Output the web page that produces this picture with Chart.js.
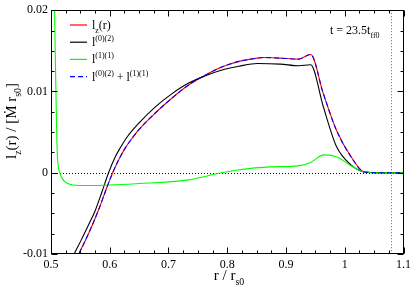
<!DOCTYPE html>
<html><head><meta charset="utf-8">
<script src="https://cdn.jsdelivr.net/npm/chart.js@4"></script>
<style>html,body{margin:0;padding:0;background:#fff}canvas{display:block}</style>
</head><body>
<canvas id="c" width="415" height="287"></canvas>
<script>
// ---- data ----
const xTotal = [0.542,0.548,0.560,0.5711,0.5824,0.5936,0.605,0.616,0.626,0.6356,0.6496,0.6776,0.7055,0.7336,0.7617,0.7896,0.82,0.8513,0.8625,0.8904,0.9213,0.942,0.9634,0.9857,1.011,1.033,1.06,1.1];
const yTotal = [-0.0108,-0.0099,-0.0081,-0.0063,-0.0043,-0.0021,0.0,0.0017,0.0030,0.0040,0.0053,0.00735,0.00916,0.01076,0.01197,0.01297,0.0137,0.0141,0.01418,0.0141,0.01398,0.01455,0.00976,0.00526,0.00193,0.0001,0,0];
const x02 = [0.534,0.540,0.552,0.564,0.575,0.5865,0.598,0.609,0.619,0.6296,0.6496,0.6776,0.7055,0.7336,0.7617,0.7896,0.82,0.8513,0.8904,0.9213,0.942,0.9634,0.9857,1.011,1.033,1.06,1.1];
const y02 = [-0.0108,-0.0099,-0.0082,-0.0064,-0.0047,-0.0024,0.0,0.0019,0.0032,0.0044,0.0061,0.0081,0.0097,0.011,0.0119,0.0126,0.0131,0.01345,0.01337,0.01317,0.01329,0.00815,0.00325,0.00093,0.0001,0,0];
const x11 = [0.5035,0.506,0.5084,0.5106,0.515,0.5235,0.537,0.5655,0.65,0.7336,0.784,0.8176,0.8737,0.9213,0.941,0.9644,0.9857,1.011,1.033,1.06,1.1];
const y11 = [0.035,0.02,0.01,0.0025,0.0,-0.0011,-0.0015,-0.00157,-0.00133,-0.00088,-0.0001,0.00034,0.00072,0.00084,0.00124,0.0022,0.00197,0.00084,0.00012,0,0];
const xSum = [0.542,0.548,0.560,0.5711,0.5824,0.5936,0.605,0.616,0.626,0.6356,0.6496,0.6776,0.7055,0.7336,0.7617,0.7896,0.82,0.8513,0.8625,0.8904,0.9213,0.942,0.9634,0.9857,1.011,1.033,1.06,1.1];
const ySum = [-0.0108,-0.0099,-0.0081,-0.0063,-0.0043,-0.0021,0.0,0.0017,0.0030,0.0040,0.0053,0.00735,0.00916,0.01076,0.01197,0.01297,0.0137,0.0141,0.01418,0.0141,0.01398,0.01455,0.00976,0.00526,0.00193,0.0001,0,0];
const xTicks = [0.5,0.6,0.7,0.8,0.9,1.0,1.1];
const yTicks = [-0.01,0,0.01,0.02];
const xDotted = 1.079;

const FONT = "'Liberation Serif', 'Times New Roman', Times, 'DejaVu Serif', serif";
const pts = (xs, ys) => xs.map((x,i)=>({x, y: ys[i]}));

function drawRich(ctx, x, y, segs, size, align){
  let w = 0;
  const parts = segs.map(s=>{
    const fs = s.k ? size*0.66 : size;
    ctx.font = fs + "px " + FONT;
    const m = ctx.measureText(s.t).width;
    w += m; return {s, fs, m};
  });
  let cx = align==='center' ? x - w/2 : (align==='right' ? x - w : x);
  ctx.textBaseline = 'alphabetic'; ctx.textAlign = 'left';
  parts.forEach(p=>{
    ctx.font = p.fs + "px " + FONT;
    let dy = 0;
    if (p.s.k==='sub') dy = size*0.32;
    if (p.s.k==='sup') dy = -size*0.42;
    ctx.fillText(p.s.t, cx, y+dy);
    cx += p.m;
  });
}

const legendItems = [
  {color:'#ff0000', dash:[], segs:[{t:'l'},{t:'z',k:'sub'},{t:'(r)'}]},
  {color:'#000000', dash:[], segs:[{t:'l'},{t:'(0)(2)',k:'sup'}]},
  {color:'#00ff00', dash:[], segs:[{t:'l'},{t:'(1)(1)',k:'sup'}]},
  {color:'#0000ff', dash:[5,3], segs:[{t:'l'},{t:'(0)(2)',k:'sup'},{t:' + l'},{t:'(1)(1)',k:'sup'}]}
];

const deco = {
  id:'deco',
  beforeDatasetsDraw(chart){
    const {ctx, chartArea:a, scales:{x,y}} = chart;
    ctx.save();
    ctx.strokeStyle = '#000'; ctx.lineWidth = 1; ctx.setLineDash([1,2]);
    const y0 = Math.round(y.getPixelForValue(0))+0.5;
    ctx.beginPath(); ctx.moveTo(a.left, y0); ctx.lineTo(a.right, y0); ctx.stroke();
    ctx.strokeStyle = '#666';
    const xv = Math.round(x.getPixelForValue(xDotted))+0.5;
    ctx.beginPath(); ctx.moveTo(xv, a.top); ctx.lineTo(xv, a.bottom); ctx.stroke();
    ctx.restore();
  },
  afterDatasetsDraw(chart){
    const {ctx, chartArea:a, scales:{x,y}} = chart;
    ctx.save();
    ctx.strokeStyle = '#000'; ctx.lineWidth = 1; ctx.setLineDash([]);
    const L = Math.round(a.left)+0.5, R = Math.round(a.right)-0.5, T = Math.round(a.top)+0.5, B = Math.round(a.bottom)-0.5;
    ctx.strokeRect(L, T, R-L, B-T);
    ctx.beginPath();
    for (let i=0;i<=24;i++){
      const v = 0.5 + i*0.025;
      const px = Math.round(x.getPixelForValue(v))+0.5;
      const len = (i%4===0) ? 6 : 3;
      ctx.moveTo(px, B); ctx.lineTo(px, B-len);
      ctx.moveTo(px, T); ctx.lineTo(px, T+len);
    }
    for (let i=0;i<=12;i++){
      const v = -0.01 + i*0.0025;
      const py = Math.round(y.getPixelForValue(v))+0.5;
      const len = (i%4===0) ? 6 : 3;
      ctx.moveTo(L, py); ctx.lineTo(L+len, py);
      ctx.moveTo(R, py); ctx.lineTo(R-len, py);
    }
    ctx.stroke();
    ctx.fillStyle = '#000';
    legendItems.forEach((it, i)=>{
      const cy = 25 + i*17.2;
      ctx.strokeStyle = it.color; ctx.lineWidth = 1.2; ctx.setLineDash(it.dash);
      ctx.beginPath(); ctx.moveTo(70, cy); ctx.lineTo(87, cy); ctx.stroke();
      ctx.setLineDash([]);
      drawRich(ctx, 92, cy+4, it.segs, 12, 'left');
    });
    drawRich(ctx, 330, 34, [{t:'t = 23.5t'},{t:'ff0',k:'sub'}], 12, 'left');
    drawRich(ctx, 229, 280, [{t:'r / r'},{t:'s0',k:'sub'}], 15, 'center');
    ctx.save();
    ctx.translate(16, 121); ctx.rotate(-Math.PI/2);
    drawRich(ctx, 0, 0, [{t:'l'},{t:'z',k:'sub'},{t:'(r) / [Ṁ r'},{t:'s0',k:'sub'},{t:']'}], 15, 'center');
    ctx.restore();
    ctx.restore();
  }
};

const common = {showLine:true, pointRadius:0, borderWidth:1.1, fill:false, cubicInterpolationMode:'monotone'};
new Chart(document.getElementById('c'), {
  type:'scatter',
  data:{datasets:[
    Object.assign({label:'lz(r)', data:pts(xTotal,yTotal), borderColor:'#ff0000', order:4}, common),
    Object.assign({label:'l(0)(2)', data:pts(x02,y02), borderColor:'#000000', order:3}, common),
    Object.assign({label:'l(1)(1)', data:pts(x11,y11), borderColor:'#00ff00', order:2}, common),
    Object.assign({label:'sum', data:pts(xSum,ySum), borderColor:'#0000ff', borderDash:[5,3], order:1}, common)
  ]},
  options:{
    responsive:false, animation:false, devicePixelRatio:1,
    layout:{padding:{top:5, right:8, left:0, bottom:0}},
    plugins:{legend:{display:false}, tooltip:{enabled:false}},
    scales:{
      x:{type:'linear', min:0.5, max:1.1,
        afterBuildTicks(s){ s.ticks = xTicks.map(v=>({value:v})); },
        afterFit(s){ s.height = 33; },
        grid:{display:false, drawTicks:false}, border:{display:false},
        ticks:{autoSkip:false, maxRotation:0, padding:4, color:'#000', font:{family:FONT, size:12},
          callback:v=>String(Math.round(v*10)/10)}},
      y:{type:'linear', min:-0.01, max:0.02,
        afterBuildTicks(s){ s.ticks = yTicks.map(v=>({value:v})); },
        afterFit(s){ s.width = 51; },
        grid:{display:false, drawTicks:false}, border:{display:false},
        ticks:{autoSkip:false, padding:3, color:'#000', font:{family:FONT, size:12},
          callback:v=>String(Math.round(v*100)/100)}}
    }
  },
  plugins:[deco]
});
</script>
</body></html>
